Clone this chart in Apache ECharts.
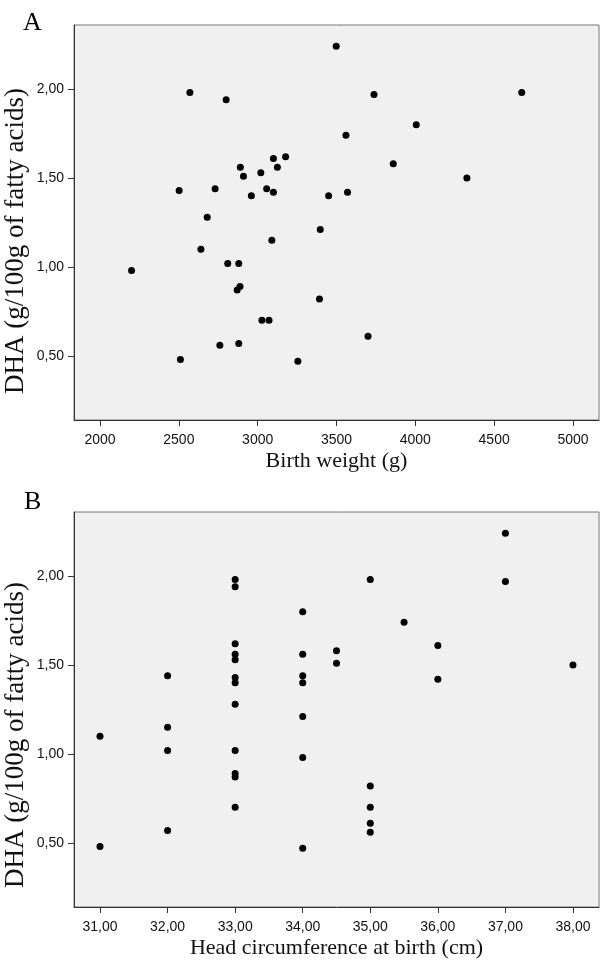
<!DOCTYPE html>
<html>
<head>
<meta charset="utf-8">
<script src="https://cdn.jsdelivr.net/npm/echarts@6/dist/echarts.min.js"></script>
<style>html,body{margin:0;padding:0;background:#fff;}#c{width:600px;height:962px;}</style>
</head>
<body>
<div id="c"></div>
<script>
// Panel A: birth weight (g) vs DHA
const birthWeight = [2200,2570,2800,2502,2730,2680,2890,2910,2960,3020,3057,3100,3100,3125,3177,3498,3738,4675,3560,4006,3860,4327,3450,3570,2640,3090,2810,2880,2870,2888,3027,3072,2760,2880,2510,3255,3397,3392,3700];
const dhaA = [0.98,1.98,1.94,1.43,1.44,1.28,1.56,1.51,1.40,1.53,1.44,1.42,1.61,1.56,1.62,2.24,1.97,1.98,1.74,1.80,1.58,1.50,1.40,1.42,1.10,1.15,1.02,1.02,0.87,0.89,0.70,0.70,0.56,0.57,0.48,0.47,1.21,0.82,0.61];
// Panel B: head circumference (cm) vs DHA
const headCirc = [31,31,32,32,32,32,33,33,33,33,33,33,33,33,33,33,33,33,34,34,34,34,34,34,34,34.5,34.5,35,35,35,35,35,35.5,36,36,37,37,38];
const dhaB = [1.10,0.48,1.44,1.15,1.02,0.57,1.98,1.94,1.62,1.56,1.53,1.43,1.40,1.28,1.02,0.89,0.87,0.70,1.80,1.56,1.44,1.40,1.21,0.98,0.47,1.58,1.51,1.98,0.82,0.70,0.61,0.56,1.74,1.61,1.42,2.24,1.97,1.50];
// tick labels
const xTicksA = [2000,2500,3000,3500,4000,4500,5000];
const xTicksB = [31,32,33,34,35,36,37,38];
const yTicks = [0.5,1.0,1.5,2.0];
const yTitle = 'DHA (g/100g of fatty acids)';

const chart = echarts.init(document.getElementById('c'), null, {renderer:'canvas'});
const comma = v => Number(v).toFixed(2).replace('.', ',');
const sans = 'Liberation Sans';
const serif = 'Liberation Serif';
const axisLine = {show:true, lineStyle:{color:'#333', width:1}};
const axisTickBase = {show:true, length:6, lineStyle:{color:'#333', width:1}};

function xAxis(idx, min, max, ticks, name, fmt){
  return {
    type:'value', gridIndex:idx, min:min, max:max,
    name:name, nameLocation:'middle', nameGap:30,
    nameTextStyle:{fontFamily:serif, fontSize:22, color:'#111'},
    axisLine:axisLine,
    axisTick:Object.assign({customValues:ticks}, axisTickBase),
    axisLabel:{customValues:ticks, formatter:fmt, fontFamily:sans, fontSize:14, color:'#111', margin:13},
    splitLine:{show:false}
  };
}
function yAxis(idx){
  return {
    type:'value', gridIndex:idx, min:0.14, max:2.36,
    axisLine:axisLine,
    axisTick:Object.assign({customValues:yTicks}, axisTickBase),
    axisLabel:{customValues:yTicks, formatter:comma, fontFamily:sans, fontSize:14, color:'#111', margin:10},
    splitLine:{show:false}
  };
}
function yTitleText(cy){
  return {type:'text', x:16, y:cy, rotation:Math.PI/2,
    style:{text:yTitle, font:'27px "Liberation Serif"', fill:'#111', align:'center', verticalAlign:'middle'}};
}

chart.setOption({
  animation:false,
  backgroundColor:'#fff',
  grid:[
    {left:74, top:25, width:525, height:395, outerBoundsMode:'none', containLabel:false, show:true, backgroundColor:'#f0f0f0', borderColor:'#777', borderWidth:1},
    {left:74, top:512, width:525, height:395, outerBoundsMode:'none', containLabel:false, show:true, backgroundColor:'#f0f0f0', borderColor:'#777', borderWidth:1}
  ],
  xAxis:[
    xAxis(0, 1835, 5165, xTicksA, 'Birth weight (g)', v => String(v)),
    xAxis(1, 30.615, 38.385, xTicksB, 'Head circumference at birth (cm)', comma)
  ],
  yAxis:[yAxis(0), yAxis(1)],
  series:[
    {type:'scatter', xAxisIndex:0, yAxisIndex:0, symbol:'circle', symbolSize:7,
     itemStyle:{color:'#000', opacity:1}, data:birthWeight.map((x,i)=>[x, dhaA[i]])},
    {type:'scatter', xAxisIndex:1, yAxisIndex:1, symbol:'circle', symbolSize:7,
     itemStyle:{color:'#000', opacity:1}, data:headCirc.map((x,i)=>[x, dhaB[i]])}
  ],
  graphic:[
    {type:'text', left:23, top:10, style:{text:'A', font:'26px "Liberation Serif"', fill:'#000'}},
    {type:'text', left:24, top:489, style:{text:'B', font:'26px "Liberation Serif"', fill:'#000'}},
    yTitleText(241),
    yTitleText(735)
  ]
});
</script>
</body>
</html>
